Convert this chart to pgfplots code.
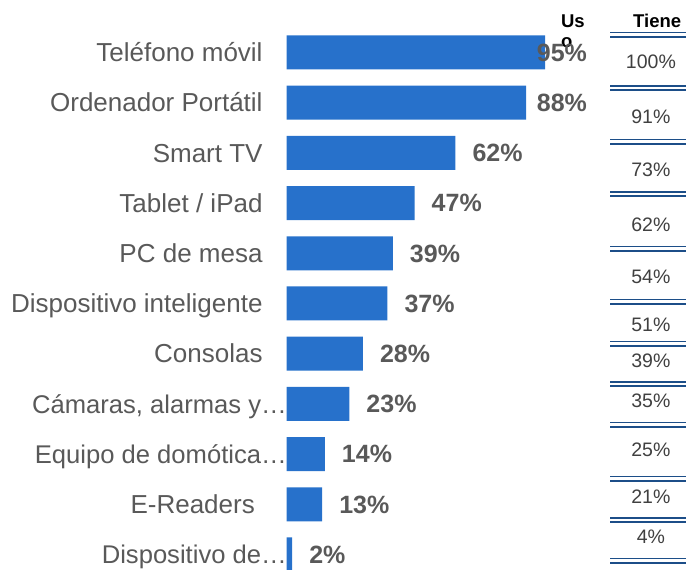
\documentclass[border=0pt]{standalone}
\usepackage{pgfplots}
\pgfplotsset{compat=1.18}
\usepackage{fontspec}
\setmainfont{Liberation Sans}
\definecolor{barblue}{RGB}{39,113,203}
\definecolor{lblgray}{RGB}{89,89,89}
\definecolor{valgray}{RGB}{64,64,64}
\definecolor{lineblue}{RGB}{28,78,136}
\begin{document}
\begin{tikzpicture}
\begin{axis}[name=ax, at={(0,0)}, anchor=south west,
  scale only axis, width=686bp, height=570bp,
  xmin=-105.4, xmax=146.8, ymin=0, ymax=570, y dir=reverse,
  axis lines=none, clip=false]
% bars (Uso)
\addplot[xbar, bar width=34, fill=barblue, draw=none] coordinates {
 (95,52.5) (88,102.7) (62,152.9) (47,203.1) (39,253.3) (37,303.5)
 (28,353.7) (23,403.9) (14,454.1) (13,504.3) (2,554.5)};
% value labels
\addplot[draw=none, mark=none, nodes near coords, point meta=explicit symbolic,
  nodes near coords align={horizontal},
  every node near coord/.style={anchor=base west, inner sep=0pt, text=lblgray,
  font=\fontsize{25bp}{29bp}\selectfont\bfseries}] coordinates {
 (91.9,61.4) [95\%] (91.9,111.6) [88\%] (68.25,161.8) [62\%] (53.25,212.0) [47\%]
 (45.25,262.2) [39\%] (43.25,312.4) [37\%] (34.25,362.6) [28\%] (29.25,412.8) [23\%]
 (20.25,463.0) [14\%] (19.25,513.2) [13\%] (8.25,563.4) [2\%]};
% double rules of the Tiene column
\addplot[lineblue, line width=1.5bp, unbounded coords=jump] table {
x y
118.9 32.3
146.8 32.3
nan nan
118.9 85.8
146.8 85.8
nan nan
118.9 139.3
146.8 139.3
nan nan
118.9 191.8
146.8 191.8
nan nan
118.9 246.3
146.8 246.3
nan nan
118.9 299.3
146.8 299.3
nan nan
118.9 341.3
146.8 341.3
nan nan
118.9 381.8
146.8 381.8
nan nan
118.9 422.3
146.8 422.3
nan nan
118.9 476.3
146.8 476.3
nan nan
118.9 517.8
146.8 517.8
nan nan
118.9 558.3
146.8 558.3
};
\addplot[lineblue, line width=2.2bp, unbounded coords=jump] table {
x y
118.9 36.8
146.8 36.8
nan nan
118.9 90.3
146.8 90.3
nan nan
118.9 143.8
146.8 143.8
nan nan
118.9 196.3
146.8 196.3
nan nan
118.9 250.8
146.8 250.8
nan nan
118.9 303.8
146.8 303.8
nan nan
118.9 345.8
146.8 345.8
nan nan
118.9 386.3
146.8 386.3
nan nan
118.9 426.8
146.8 426.8
nan nan
118.9 480.8
146.8 480.8
nan nan
118.9 522.3
146.8 522.3
nan nan
118.9 562.8
146.8 562.8
};
% Tiene values
\addplot[draw=none, mark=none, nodes near coords, point meta=explicit symbolic,
  nodes near coords align={center},
  every node near coord/.style={anchor=base, inner sep=0pt, text=valgray,
  font=\fontsize{19.5bp}{23bp}\selectfont}] coordinates {
 (133.9,69) [100\%] (133.9,124) [91\%] (133.9,177) [73\%] (133.9,232) [62\%]
 (133.9,284) [54\%] (133.9,332) [51\%] (133.9,368) [39\%] (133.9,408) [35\%]
 (133.9,457) [25\%] (133.9,504) [21\%] (133.9,544) [4\%]};
% category labels
\begin{scope}[every node/.style={anchor=base east, inner sep=0pt, text=lblgray,
  font=\fontsize{26bp}{30bp}\selectfont}]
\node at (axis cs:-8.8,61.8) {Teléfono móvil};
\node at (axis cs:-8.8,112.0) {Ordenador Portátil};
\node at (axis cs:-8.8,162.2) {Smart TV};
\node at (axis cs:-8.8,212.4) {Tablet / iPad};
\node at (axis cs:-8.8,262.6) {PC de mesa};
\node at (axis cs:-8.8,312.8) {Dispositivo inteligente};
\node at (axis cs:-8.8,363.0) {Consolas};
\node[font=\fontsize{25.6bp}{30bp}\selectfont] at (axis cs:0.1,413.2) {Cámaras, alarmas y…};
\node[font=\fontsize{25.6bp}{30bp}\selectfont] at (axis cs:0.1,463.4) {Equipo de domótica…};
\node at (axis cs:-11.65,513.6) {E-Readers};
\node[font=\fontsize{25.6bp}{30bp}\selectfont] at (axis cs:0.1,563.8) {Dispositivo de…};
\end{scope}
% headers
\begin{scope}[every node/.style={inner sep=0pt, text=black,
  font=\fontsize{18.5bp}{22bp}\selectfont\bfseries}]
\node[anchor=base west] at (axis cs:100.8,28) {Us};
\node[anchor=base west] at (axis cs:100.8,48) {o};
\node[anchor=base] at (axis cs:136.2,28) {Tiene};
\end{scope}
\end{axis}
\pgfresetboundingbox
\useasboundingbox (ax.south west) rectangle (ax.north east);
\end{tikzpicture}
\end{document}
